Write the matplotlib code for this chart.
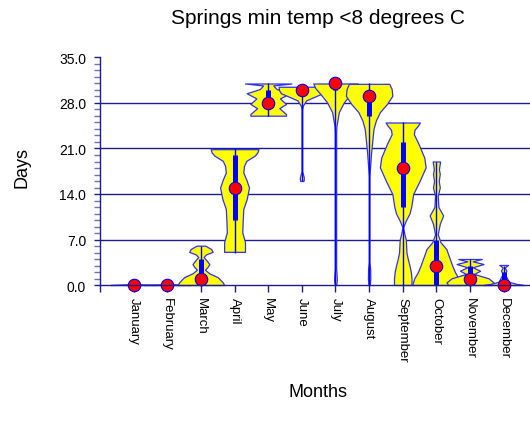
import matplotlib
matplotlib.use("Agg")
import matplotlib.pyplot as plt
import numpy as np

plt.rcParams['font.family'] = ['Liberation Sans', 'DejaVu Sans']

months = ["January", "February", "March", "April", "May", "June", "July",
          "August", "September", "October", "November", "December"]
medians = [0, 0, 1, 15, 28, 30, 31, 29, 18, 3, 1, 0]
q1 = [0, 0, 0, 10, 27, 29, 30, 26, 12, 0, 0, 0]
q3 = [0, 0, 4, 20, 30, 30, 31, 30, 22, 7, 3, 2]
mins = [0, 0, 0, 5, 26, 16, 0, 0, 0, 0, 0, 0]
maxs = [0, 0, 6, 21, 31, 30.5, 31, 31, 25, 19, 4, 3]

# violin outlines: (level in days, half-width in month units)
jan_prof = [(0, 0.69), (0.12, 0.02)]
feb_prof = [(0, 0.69), (0.12, 0.02)]
mar_prof = [(0, 0.69), (0.4, 0.65), (1.2, 0.5), (1.8, 0.25), (2.35, 0.12), (2.8, 0.2),
            (3.2, 0.25), (3.7, 0.18), (4.3, 0.08), (4.7, 0.15), (5.1, 0.35),
            (5.55, 0.3), (6.05, 0.13)]
apr_prof = [(5.1, 0.31), (6.6, 0.31), (8.1, 0.23), (9.6, 0.24), (11.7, 0.26),
            (13.2, 0.36), (15.0, 0.43), (16.2, 0.35), (17.3, 0.26), (18.3, 0.28),
            (19.1, 0.35), (19.9, 0.6), (20.4, 0.68), (20.9, 0.71)]
may_prof = [(26.05, 0.53), (26.3, 0.53), (27.2, 0.33), (27.85, 0.53), (28.7, 0.35),
            (29.5, 0.64), (30.15, 0.25), (30.7, 0.15), (31.0, 0.69)]
jun_prof = [(16.0, 0.05), (16.5, 0.06), (17.1, 0.03), (17.5, 0.01), (27.0, 0.01),
            (27.6, 0.03), (28.4, 0.13), (28.9, 0.35), (29.5, 0.62), (30.0, 0.68),
            (30.5, 0.69)]
jul_prof = [(0, 0.02), (0.7, 0.04), (1.5, 0.035), (2.5, 0.02), (23.5, 0.02),
            (24.5, 0.03), (26.6, 0.1), (28.1, 0.25), (29.4, 0.45), (30.3, 0.6),
            (31.0, 0.66)]
aug_prof = [(0, 0.02), (1.0, 0.035), (2.5, 0.03), (3.5, 0.01), (16.8, 0.01),
            (20.4, 0.06), (24.0, 0.13), (25.3, 0.2), (26.6, 0.32), (27.85, 0.53),
            (29.1, 0.69), (30.15, 0.67), (30.95, 0.6)]
sep_prof = [(0, 0.26), (1, 0.26), (2, 0.24), (3, 0.2), (4, 0.15), (5, 0.11), (6, 0.1),
            (7, 0.09), (8, 0.04), (8.9, 0.01), (9.9, 0.09), (11, 0.2), (12, 0.25),
            (14, 0.31), (16, 0.5), (18.1, 0.68), (19.6, 0.64), (21.7, 0.47),
            (23.2, 0.33), (23.9, 0.35), (24.5, 0.45), (25, 0.51)]
oct_prof = [(0, 0.72), (1, 0.66), (2, 0.55), (3, 0.47), (4, 0.4), (5, 0.33), (5.5, 0.3),
            (6.6, 0.12), (7.8, 0.04), (9.4, 0.1), (10.7, 0.2), (12, 0.06), (13.7, 0.04),
            (15, 0.1), (16, 0.07), (17.1, 0.1), (17.8, 0.075), (19, 0.11)]
nov_prof = [(0, 0.65), (0.4, 0.7), (1.03, 0.55), (1.7, 0.12), (2.2, 0.3), (2.72, 0.08),
            (3.23, 0.4), (3.64, 0.08), (4.0, 0.35)]
dec_prof = [(0, 0.6), (0.15, 0.4), (0.5, 0.15), (1.03, 0.1), (1.7, 0.03), (2.2, 0.08),
            (2.7, 0.03), (3.08, 0.13)]
profiles = [jan_prof, feb_prof, mar_prof, apr_prof, may_prof, jun_prof, jul_prof,
            aug_prof, sep_prof, oct_prof, nov_prof, dec_prof]

W, H = 530, 431
fig = plt.figure(figsize=(W / 100, H / 100), dpi=100)
ax = fig.add_axes([100 / W, (H - 286) / H, 1 - 100 / W, (286 - 58.5) / H])
ax.set_xlim(0, 430 / 33.64)
ax.set_ylim(0, 35)

navy = '#1c1c8c'
edge = '#2f2fff'
blue = '#0000ff'

for y in [7, 14, 21, 28]:
    ax.axhline(y, color=navy, lw=1.0, zorder=1)

for i, prof in enumerate(profiles):
    x = i + 1
    v = np.array([p[0] for p in prof])
    w = np.array([p[1] for p in prof])
    ax.fill_betweenx(v, x - w, x + w, facecolor='#ffff00', edgecolor=edge,
                     lw=0.9, zorder=2, clip_on=False)
    ax.vlines(x, mins[i], maxs[i], color=blue, lw=1.0, zorder=3)
    if q3[i] > q1[i]:
        ax.vlines(x, q1[i], q3[i], color=blue, lw=3.6, zorder=3)
    ax.plot([x], [medians[i]], 'o', ms=9, mfc='#ff0000', mec=blue, mew=0.8,
            zorder=4, clip_on=False)

for s in ['top', 'right']:
    ax.spines[s].set_visible(False)
for s in ['left', 'bottom']:
    ax.spines[s].set_color(navy)
    ax.spines[s].set_linewidth(1.0)
    ax.spines[s].set_zorder(5)

ax.set_yticks([0, 7, 14, 21, 28, 35])
ax.set_yticklabels(["0.0", "7.0", "14.0", "21.0", "28.0", "35.0"], fontsize=10)
ax.set_yticks(np.arange(0, 36, 1), minor=True)
ax.tick_params(axis='y', which='major', direction='out', length=4, width=1,
               color=navy, pad=6)
ax.tick_params(axis='y', which='minor', direction='out', length=4, width=1,
               color='#7070b8')
ax.set_xticks(np.arange(0, 13))
ax.set_xticklabels([""] + months, rotation=270, fontsize=9.5, va='top', ha='center')
ax.tick_params(axis='x', direction='out', length=5, width=1, color=navy, pad=4)

fig.text(318 / W, 1 - 18 / H, "Springs min temp <8 degrees C", ha='center',
         va='center', fontsize=15)
fig.text(22 / W, 1 - 168 / H, "Days", ha='center', va='center', rotation=90,
         fontsize=13)
fig.text(318 / W, 1 - 393 / H, "Months", ha='center', va='center', fontsize=13)

fig.savefig("out.png", dpi=100)
